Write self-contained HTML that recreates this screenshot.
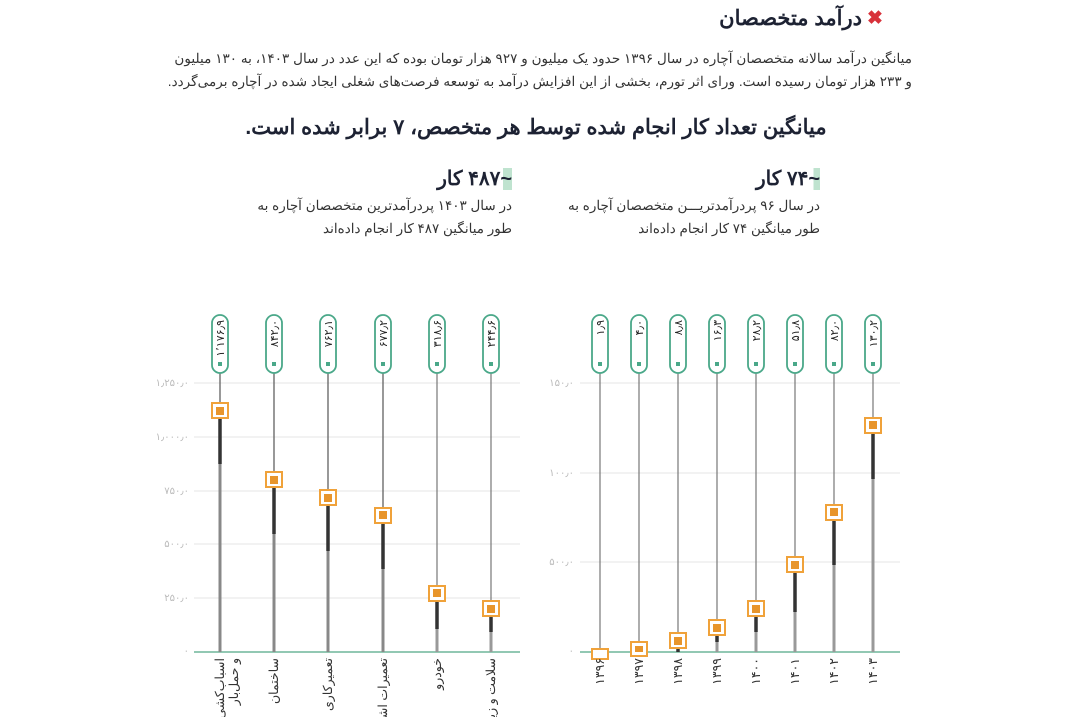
<!DOCTYPE html>
<html><head><meta charset="utf-8"><style>
body{margin:0;background:#fff;width:1072px;height:717px;overflow:hidden;font-family:"Liberation Sans","Noto Sans CJK SC",sans-serif;color:#222}
.a{position:absolute;direction:rtl;white-space:nowrap}
</style></head><body>
<div class="a" style="right:210px;top:6px;font-size:21px;font-weight:bold;color:#1d2233">درآمد متخصصان</div>
<div style="position:absolute;left:867px;top:10px;width:18px;height:18px;color:#d8313a;font-size:19px;font-weight:bold;line-height:18px">✖</div>
<div class="a" style="right:160px;top:47px;font-size:13.6px;line-height:23px;color:#333;text-align:right">میانگین درآمد سالانه متخصصان آچاره در سال ۱۳۹۶ حدود یک میلیون و ۹۲۷ هزار تومان بوده که این عدد در سال ۱۴۰۳، به ۱۳۰ میلیون<br>و ۲۳۳ هزار تومان رسیده است. ورای اثر تورم، بخشی از این افزایش درآمد به توسعه فرصت‌های شغلی ایجاد شده در آچاره برمی‌گردد.</div>
<div class="a" style="left:0;width:1072px;text-align:center;top:115px;font-size:21px;font-weight:bold;color:#1d2233">میانگین تعداد کار انجام شده توسط هر متخصص،  ۷ برابر شده است.</div>
<div class="a" style="right:252px;top:166px;font-size:20px;font-weight:bold;color:#1d2233"><span style="background:linear-gradient(90deg,transparent 80%,#bfe3cf 80%)">~۷۴</span> کار</div>
<div class="a" style="right:252px;top:194px;font-size:13.5px;line-height:23px;color:#333;text-align:right">در سال ۹۶ پردرآمدتریـــن متخصصان آچاره به<br>طور میانگین ۷۴ کار انجام داده‌اند</div>
<div class="a" style="right:560px;top:166px;font-size:20px;font-weight:bold;color:#1d2233"><span style="background:linear-gradient(90deg,transparent 80%,#bfe3cf 80%)">~۴۸۷</span> کار</div>
<div class="a" style="right:560px;top:194px;font-size:13.5px;line-height:23px;color:#333;text-align:right">در سال ۱۴۰۳ پردرآمدترین متخصصان آچاره به<br>طور میانگین ۴۸۷ کار انجام داده‌اند</div>
<svg width="1072" height="717" style="position:absolute;left:0;top:0" font-family="Liberation Sans, Noto Sans CJK SC, sans-serif">
<g stroke="#e6e6e6" stroke-width="1">
<line x1="194" x2="520" y1="383" y2="383"/><line x1="194" x2="520" y1="437" y2="437"/><line x1="194" x2="520" y1="491" y2="491"/><line x1="194" x2="520" y1="544" y2="544"/><line x1="194" x2="520" y1="598" y2="598"/>
<line x1="580" x2="900" y1="383" y2="383"/><line x1="580" x2="900" y1="473" y2="473"/><line x1="580" x2="900" y1="562" y2="562"/>
</g>
<g fill="#bbb" font-size="10" text-anchor="end">
<text x="189" y="386">۱٫۲۵۰٫۰</text><text x="189" y="440">۱٫۰۰۰٫۰</text><text x="189" y="494">۷۵۰٫۰</text><text x="189" y="547">۵۰۰٫۰</text><text x="189" y="601">۲۵۰٫۰</text><text x="189" y="654">۰</text>
<text x="574" y="386">۱۵۰٫۰</text><text x="574" y="476">۱۰۰٫۰</text><text x="574" y="565">۵۰۰٫۰</text><text x="574" y="654">۰</text>
</g>
<line x1="194" x2="520" y1="652" y2="652" stroke="#6fb59a" stroke-width="1.5"/>
<line x1="580" x2="900" y1="652" y2="652" stroke="#6fb59a" stroke-width="1.5"/>
<g>
<line x1="220" x2="220" y1="364" y2="652" stroke="#555" stroke-width="1.2"/><line x1="220" x2="220" y1="464" y2="652" stroke="#888" stroke-width="3"/><line x1="220" x2="220" y1="411" y2="464" stroke="#333" stroke-width="3.5"/>
<line x1="274" x2="274" y1="364" y2="652" stroke="#555" stroke-width="1.2"/><line x1="274" x2="274" y1="534" y2="652" stroke="#888" stroke-width="3"/><line x1="274" x2="274" y1="480" y2="534" stroke="#333" stroke-width="3.5"/>
<line x1="328" x2="328" y1="364" y2="652" stroke="#555" stroke-width="1.2"/><line x1="328" x2="328" y1="551" y2="652" stroke="#888" stroke-width="3"/><line x1="328" x2="328" y1="498" y2="551" stroke="#333" stroke-width="3.5"/>
<line x1="383" x2="383" y1="364" y2="652" stroke="#555" stroke-width="1.2"/><line x1="383" x2="383" y1="569" y2="652" stroke="#888" stroke-width="3"/><line x1="383" x2="383" y1="515" y2="569" stroke="#333" stroke-width="3.5"/>
<line x1="437" x2="437" y1="364" y2="652" stroke="#777" stroke-width="1.2"/><line x1="437" x2="437" y1="629" y2="652" stroke="#999" stroke-width="3"/><line x1="437" x2="437" y1="593" y2="629" stroke="#333" stroke-width="3.5"/>
<line x1="491" x2="491" y1="364" y2="652" stroke="#777" stroke-width="1.2"/><line x1="491" x2="491" y1="632" y2="652" stroke="#999" stroke-width="3"/><line x1="491" x2="491" y1="609" y2="632" stroke="#333" stroke-width="3.5"/>
</g>
<g>
<line x1="600" x2="600" y1="364" y2="652" stroke="#777" stroke-width="1.2"/>
<line x1="639" x2="639" y1="364" y2="652" stroke="#777" stroke-width="1.2"/>
<line x1="678" x2="678" y1="364" y2="652" stroke="#777" stroke-width="1.2"/><line x1="678" x2="678" y1="641" y2="652" stroke="#333" stroke-width="3.5"/>
<line x1="717" x2="717" y1="364" y2="652" stroke="#777" stroke-width="1.2"/><line x1="717" x2="717" y1="642" y2="652" stroke="#999" stroke-width="3"/><line x1="717" x2="717" y1="628" y2="642" stroke="#333" stroke-width="3.5"/>
<line x1="756" x2="756" y1="364" y2="652" stroke="#777" stroke-width="1.2"/><line x1="756" x2="756" y1="632" y2="652" stroke="#999" stroke-width="3"/><line x1="756" x2="756" y1="609" y2="632" stroke="#333" stroke-width="3.5"/>
<line x1="795" x2="795" y1="364" y2="652" stroke="#777" stroke-width="1.2"/><line x1="795" x2="795" y1="612" y2="652" stroke="#999" stroke-width="3"/><line x1="795" x2="795" y1="565" y2="612" stroke="#333" stroke-width="3.5"/>
<line x1="834" x2="834" y1="364" y2="652" stroke="#777" stroke-width="1.2"/><line x1="834" x2="834" y1="565" y2="652" stroke="#999" stroke-width="3"/><line x1="834" x2="834" y1="512" y2="565" stroke="#333" stroke-width="3.5"/>
<line x1="873" x2="873" y1="364" y2="652" stroke="#777" stroke-width="1.2"/><line x1="873" x2="873" y1="479" y2="652" stroke="#999" stroke-width="3"/><line x1="873" x2="873" y1="425" y2="479" stroke="#333" stroke-width="3.5"/>
</g>
<g fill="#fff" stroke="#f0a23a" stroke-width="2">
<rect x="212" y="403" width="16" height="15"/><rect x="266" y="472" width="16" height="15"/><rect x="320" y="490" width="16" height="15"/><rect x="375" y="508" width="16" height="15"/><rect x="429" y="586" width="16" height="15"/><rect x="483" y="601" width="16" height="15"/>
<rect x="592" y="649" width="16" height="10"/><rect x="631" y="642" width="16" height="14"/><rect x="670" y="633" width="16" height="15"/><rect x="709" y="620" width="16" height="15"/><rect x="748" y="601" width="16" height="15"/><rect x="787" y="557" width="16" height="15"/><rect x="826" y="505" width="16" height="15"/><rect x="865" y="418" width="16" height="15"/>
</g>
<g fill="#e8952b">
<rect x="216" y="407" width="8" height="8"/><rect x="270" y="476" width="8" height="8"/><rect x="324" y="494" width="8" height="8"/><rect x="379" y="511" width="8" height="8"/><rect x="433" y="589" width="8" height="8"/><rect x="487" y="605" width="8" height="8"/>
<rect x="635" y="646" width="8" height="6"/><rect x="674" y="637" width="8" height="8"/><rect x="713" y="624" width="8" height="8"/><rect x="752" y="605" width="8" height="8"/><rect x="791" y="561" width="8" height="8"/><rect x="830" y="508" width="8" height="8"/><rect x="869" y="421" width="8" height="8"/>
</g>
<g fill="#fff" stroke="#4aa889" stroke-width="1.8">
<rect x="212" y="315" width="16" height="58" rx="8"/><rect x="266" y="315" width="16" height="58" rx="8"/><rect x="320" y="315" width="16" height="58" rx="8"/><rect x="375" y="315" width="16" height="58" rx="8"/><rect x="429" y="315" width="16" height="58" rx="8"/><rect x="483" y="315" width="16" height="58" rx="8"/>
<rect x="592" y="315" width="16" height="58" rx="8"/><rect x="631" y="315" width="16" height="58" rx="8"/><rect x="670" y="315" width="16" height="58" rx="8"/><rect x="709" y="315" width="16" height="58" rx="8"/><rect x="748" y="315" width="16" height="58" rx="8"/><rect x="787" y="315" width="16" height="58" rx="8"/><rect x="826" y="315" width="16" height="58" rx="8"/><rect x="865" y="315" width="16" height="58" rx="8"/>
</g>
<g fill="#4aa889">
<rect x="218" y="362" width="4" height="4"/><rect x="272" y="362" width="4" height="4"/><rect x="326" y="362" width="4" height="4"/><rect x="381" y="362" width="4" height="4"/><rect x="435" y="362" width="4" height="4"/><rect x="489" y="362" width="4" height="4"/>
<rect x="598" y="362" width="4" height="4"/><rect x="637" y="362" width="4" height="4"/><rect x="676" y="362" width="4" height="4"/><rect x="715" y="362" width="4" height="4"/><rect x="754" y="362" width="4" height="4"/><rect x="793" y="362" width="4" height="4"/><rect x="832" y="362" width="4" height="4"/><rect x="871" y="362" width="4" height="4"/>
</g>
<g fill="#222" font-size="11" text-anchor="end">
<text transform="translate(224,320) rotate(-90)">۱٬۱۷۶٫۹</text>
<text transform="translate(278,320) rotate(-90)">۸۴۲٫۰</text>
<text transform="translate(332,320) rotate(-90)">۷۶۲٫۱</text>
<text transform="translate(387,320) rotate(-90)">۶۷۷٫۲</text>
<text transform="translate(441,320) rotate(-90)">۳۱۸٫۶</text>
<text transform="translate(495,320) rotate(-90)">۲۴۴٫۶</text>
<text transform="translate(604,320) rotate(-90)">۱٫۹</text>
<text transform="translate(643,320) rotate(-90)">۴٫۰</text>
<text transform="translate(682,320) rotate(-90)">۸٫۸</text>
<text transform="translate(721,320) rotate(-90)">۱۶٫۳</text>
<text transform="translate(760,320) rotate(-90)">۲۸٫۲</text>
<text transform="translate(799,320) rotate(-90)">۵۱٫۸</text>
<text transform="translate(838,320) rotate(-90)">۸۲٫۰</text>
<text transform="translate(877,320) rotate(-90)">۱۳۰٫۲</text>
</g>
<g fill="#333" font-size="12.5" text-anchor="end">
<text transform="translate(224,658) rotate(-90)">اسباب‌کشی</text>
<text transform="translate(238,658) rotate(-90)">و حمل‌بار</text>
<text transform="translate(278,658) rotate(-90)">ساختمان</text>
<text transform="translate(332,658) rotate(-90)">تعمیرکاری</text>
<text transform="translate(387,658) rotate(-90)">تعمیرات اشیا</text>
<text transform="translate(441,658) rotate(-90)">خودرو</text>
<text transform="translate(495,658) rotate(-90)">سلامت و زیبایی</text>
<text transform="translate(604,658) rotate(-90)">۱۳۹۶</text>
<text transform="translate(643,658) rotate(-90)">۱۳۹۷</text>
<text transform="translate(682,658) rotate(-90)">۱۳۹۸</text>
<text transform="translate(721,658) rotate(-90)">۱۳۹۹</text>
<text transform="translate(760,658) rotate(-90)">۱۴۰۰</text>
<text transform="translate(799,658) rotate(-90)">۱۴۰۱</text>
<text transform="translate(838,658) rotate(-90)">۱۴۰۲</text>
<text transform="translate(877,658) rotate(-90)">۱۴۰۳</text>
</g>
</svg>
</body></html>
